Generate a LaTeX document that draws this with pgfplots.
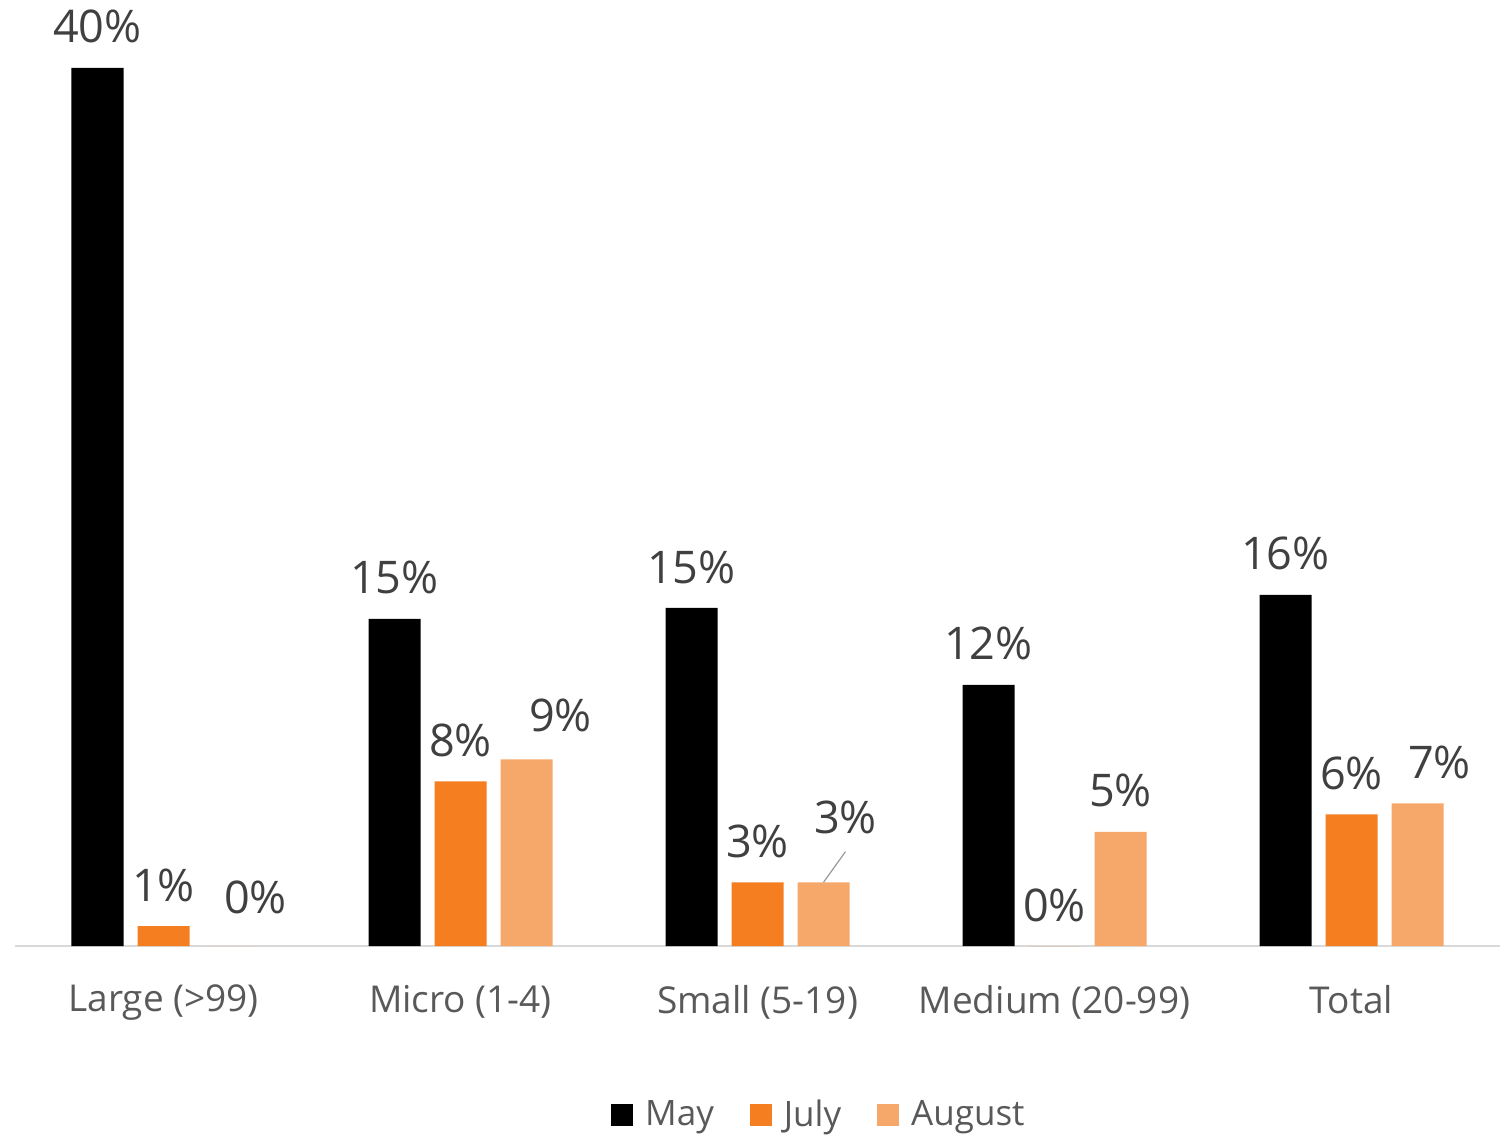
\documentclass[border=0pt]{standalone}
\usepackage{pgfplots}
\pgfplotsset{compat=1.18}
\usepackage{pgfplotstable}
\usepackage{fontspec}
\setmainfont{Open Sans}
\definecolor{cmay}{HTML}{000000}
\definecolor{cjul}{HTML}{F47E20}
\definecolor{caug}{HTML}{F6A76A}
\definecolor{lblgray}{HTML}{404040}
\definecolor{tickgray}{HTML}{595959}
\definecolor{axgray}{HTML}{D9D9D9}
\pgfplotstableread{
x y lab dx dy
0 40.0 40 0 0
1 14.9 15 0 0
2 15.4 15 0 0
3 11.9 12 0 0
4 16.0 16 0 0
}\tmay
\pgfplotstableread{
x y lab dx dy
0 0.9 1 0 0
1 7.5 8 0 0
2 2.9 3 0 0
3 0.0 0 0 0
4 6.0 6 0 0
}\tjul
\pgfplotstableread{
x y lab dx dy
0 0.0 0 13 4
1 8.5 9 17 1.5
2 2.9 3 11 12
3 5.2 5 0 0
4 6.5 7 11 0
}\taug
\begin{document}
\begin{tikzpicture}
\path[use as bounding box] (0,0) rectangle (752pt,567.5pt);
\begin{axis}[
  at={(7.5pt,94.5pt)}, anchor=south west,
  scale only axis, width=742.5pt, height=461pt,
  xmin=-0.5, xmax=4.5, ymin=0, ymax=42,
  clip=false,
  axis x line=bottom, axis y line=none,
  axis line style={axgray, line width=1pt, -},
  xtick={0,1,2,3,4},
  xticklabels={Large (>99), Micro (1-4), Small (5-19), Medium (20-99), Total},
  major tick length=0pt,
  xticklabel style={font=\fontsize{18.5}{22}\selectfont, text=tickgray, yshift=-16pt},
  ytick=\empty,
  ybar, bar width=26pt,
  nodes near coords={\pgfmathprintnumber{\pgfplotspointmeta}\%},
  point meta=explicit,
  every node near coord/.append style={anchor=center, font=\fontsize{22.5}{26}\selectfont, text=lblgray, xshift=\dx pt, yshift=20.5pt+\dy pt},
  visualization depends on={\thisrow{dx} \as \dx},
  visualization depends on={\thisrow{dy} \as \dy},
  /pgf/number format/fixed, /pgf/number format/precision=0,
  /pgf/number format/assume math mode=true,
  legend columns=3,
  legend style={draw=none, at={(0.542,-0.183)}, anchor=center, font=\fontsize{17.5}{20}\selectfont, text=tickgray,
    /tikz/every even column/.append style={column sep=16pt}},
  legend image code/.code={\fill[#1] (0pt,-5.5pt) rectangle (11pt,5.5pt); \path (15pt,0pt);},
]
\addplot[fill=cmay, draw=none, bar shift=-33pt] table[x=x, y=y, meta=lab] {\tmay};
\addlegendentry{May}
\addplot[fill=cjul, draw=none, bar shift=0pt] table[x=x, y=y, meta=lab] {\tjul};
\addlegendentry{July}
\addplot[fill=caug, draw=none, bar shift=33pt] table[x=x, y=y, meta=lab] {\taug};
\addlegendentry{August}
\draw[gray!80, line width=0.6pt] ([xshift=33pt]axis cs:2,2.9) -- ([xshift=44pt]axis cs:2,4.3);
\end{axis}
\end{tikzpicture}
\end{document}
